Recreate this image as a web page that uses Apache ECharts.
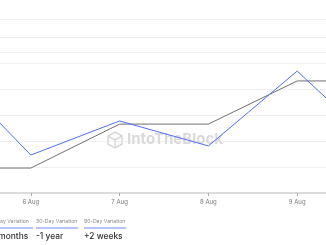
<!DOCTYPE html>
<html>
<head>
<meta charset="utf-8">
<script src="https://cdn.jsdelivr.net/npm/echarts@6/dist/echarts.min.js"></script>
<style>html,body{margin:0;padding:0;background:#fff;overflow:hidden;width:326px;height:245px;}#c{position:absolute;left:-58px;top:0;width:444px;height:245px;}</style>
</head>
<body>
<div id="c"></div>
<script>
const categories = ['5 Aug', '6 Aug', '7 Aug', '8 Aug', '9 Aug', '10 Aug'];
const blueSeries = [5.0, 1.46, 2.77, 1.81, 4.69, 1.5];
const graySeries = [0.96, 0.96, 2.65, 2.65, 4.31, 4.31];
const legendLabels = ['7-Day Variation', '30-Day Variation', '90-Day Variation'];
const legendValues = ['-3 months', '-1 year', '+2 weeks'];

const chart = echarts.init(document.getElementById('c'), null, {renderer: 'canvas'});
const FONT = 'Inter, "Noto Sans", sans-serif';
const OX = 58;

const labelX = [-9, 36, 84];
const valueX = [-13, 36, 84];
const legendGraphics = [];
legendLabels.forEach((t, i) => {
  legendGraphics.push({type: 'text', left: OX + labelX[i], top: 219, style: {text: t, fontSize: 5.2, fill: '#888', fontFamily: FONT}});
  legendGraphics.push({type: 'line', shape: {x1: OX + Math.max(labelX[i], -4), y1: 228, x2: OX + labelX[i] + 42, y2: 228}, style: {stroke: '#6b86ff', lineWidth: 1}});
  legendGraphics.push({type: 'text', left: OX + valueX[i], top: 232, style: {text: legendValues[i], fontSize: 8.4, fontWeight: 500, fill: '#333', fontFamily: FONT}});
});

chart.setOption({
  animation: false,
  grid: {left: 0, right: 0, top: 37, bottom: 52, containLabel: false, outerBoundsMode: 'none'},
  xAxis: {
    type: 'category', data: categories, boundaryGap: false,
    axisLine: {lineStyle: {color: '#dcdcdc', width: 2}},
    axisTick: {show: true, length: 3, lineStyle: {color: '#aaa'}},
    axisLabel: {fontSize: 6, color: '#777', margin: 6, fontFamily: FONT},
    splitLine: {show: false}
  },
  yAxis: {
    type: 'value', min: 0, max: 6, interval: 1,
    axisLine: {show: false}, axisTick: {show: false}, axisLabel: {show: false},
    splitLine: {lineStyle: {color: '#f1f1f1', width: 1}}
  },
  graphic: [
    {type: 'line', shape: {x1: 0, y1: 19.5, x2: 444, y2: 19.5}, style: {stroke: '#f3f3f3', lineWidth: 1}, z: -1},
    {type: 'line', shape: {x1: 0, y1: 52.5, x2: 444, y2: 52.5}, style: {stroke: '#f3f3f3', lineWidth: 1}, z: -1},
    {type: 'polygon', shape: {points: [[OX+115,132],[OX+122,136],[OX+122,144],[OX+115,148],[OX+108,144],[OX+108,136]]}, style: {fill: 'none', stroke: '#d8d8d8', lineWidth: 1.5}, z: 1},
    {type: 'polyline', shape: {points: [[OX+108,136],[OX+115,140],[OX+122,136]]}, style: {fill: 'none', stroke: '#d8d8d8', lineWidth: 1.5}, z: 1},
    {type: 'line', shape: {x1: OX+115, y1: 140, x2: OX+115, y2: 148}, style: {stroke: '#d8d8d8', lineWidth: 1.5}, z: 1},
    {type: 'text', left: OX + 127, top: 132, style: {text: 'IntoTheBlock', fontSize: 15, fontWeight: 'bold', fill: '#dadada', fontFamily: FONT}, z: 1}
  ].concat(legendGraphics),
  series: [
    {type: 'line', data: graySeries, symbol: 'none', lineStyle: {color: '#6f6f6f', width: 1}, z: 3},
    {type: 'line', data: blueSeries, symbol: 'none', lineStyle: {color: '#4f6ef7', width: 1}, z: 4}
  ]
});
</script>
</body>
</html>
